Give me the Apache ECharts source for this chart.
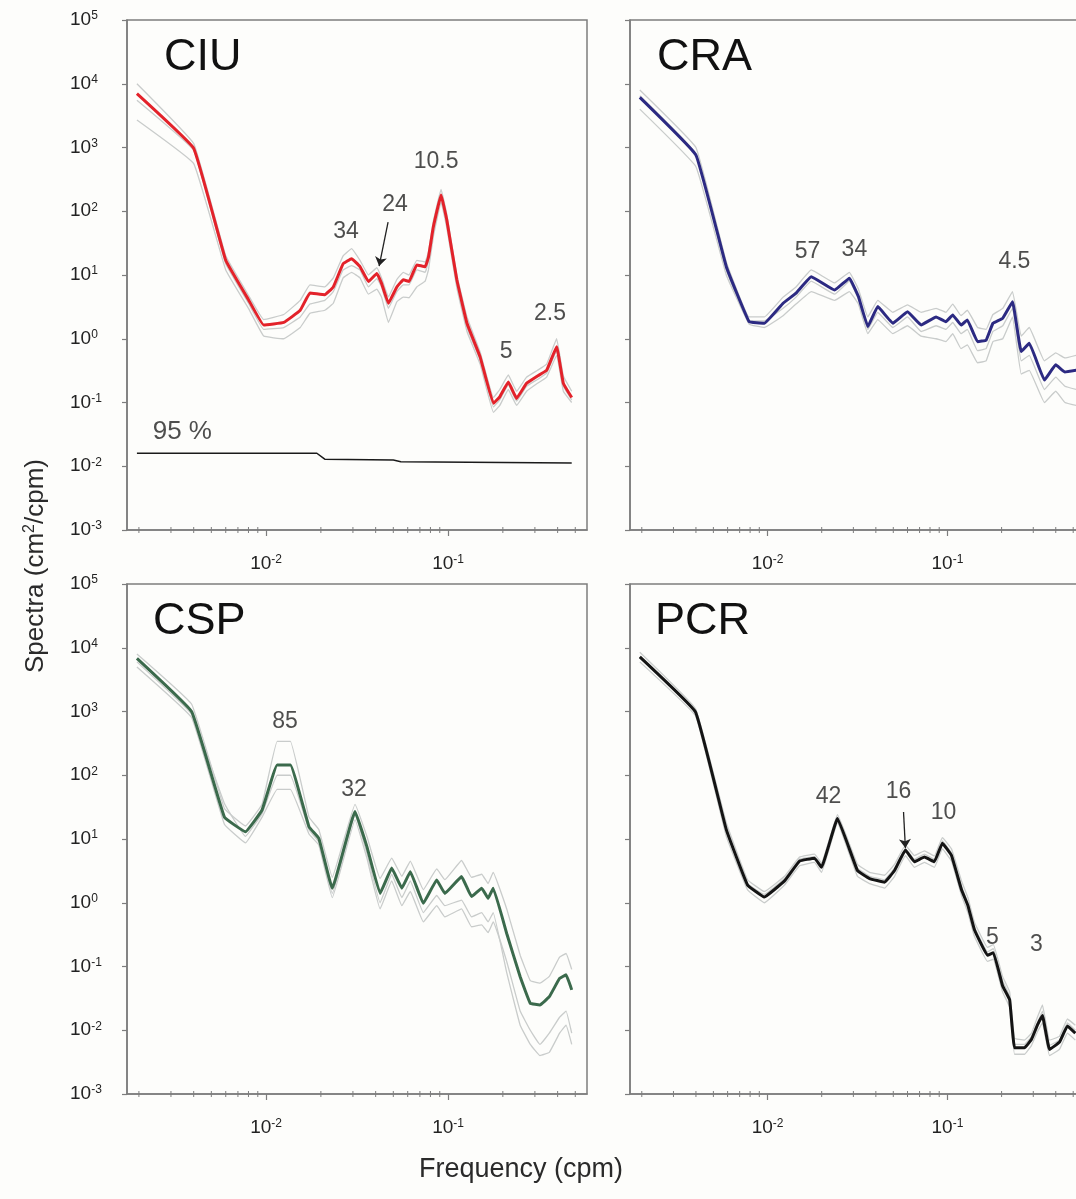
<!DOCTYPE html>
<html>
<head>
<meta charset="utf-8">
<script src="https://cdn.jsdelivr.net/npm/echarts@6/dist/echarts.min.js"></script>
<style>
  html, body { margin: 0; padding: 0; background: #fdfdfb; }
  #chart { width: 1076px; height: 1199px; }
</style>
</head>
<body>
<div id="chart"></div>
<script>
const FONT = '"Liberation Sans", Arial, Helvetica, sans-serif';

// ---- CIU ----
const ciuFreq  = [0.00195,0.004,0.006,0.008,0.0097,0.0125,0.0154,0.0174,0.021,0.0234,0.0265,0.0295,0.0328,0.0365,0.0406,0.0431,0.047,0.0523,0.0567,0.061,0.0673,0.0748,0.078,0.083,0.0915,0.0984,0.1117,0.127,0.150,0.1775,0.1924,0.2143,0.238,0.27,0.31,0.348,0.395,0.43,0.478];
const ciuMean  = [7000,970,17,4.1,1.64,1.8,2.8,5.2,4.9,6.5,15,18,13.5,7.9,10.6,7.4,3.6,6.5,8.4,7.9,14.4,13.5,19,57,180,73,8.4,1.75,0.52,0.097,0.123,0.21,0.116,0.2,0.26,0.32,0.75,0.2,0.12];
const ciuSubjA = [10000,1150,20,4.8,2.0,2.4,4,7,6.5,9,20,26,17,10,13,9,4.5,8.5,11,10,17,16,23,70,220,90,10,2.2,0.62,0.12,0.16,0.27,0.15,0.25,0.32,0.4,1.0,0.26,0.15];
const ciuSubjB = [2700,560,12,3,1.1,1.0,1.5,2.5,2.8,3.6,9,11,9,5,6,4.5,1.8,3.8,4.5,4.4,6.5,8,12,40,140,55,6.3,1.3,0.4,0.07,0.09,0.16,0.09,0.15,0.2,0.25,0.55,0.15,0.1];
const ciuSubjC = [5500,900,15,3.6,1.4,1.5,2.2,3.5,4,5.5,12,14,12,6.5,8.8,6.5,3.0,5.5,7,7,12,11,17,50,170,65,7.5,1.5,0.46,0.085,0.11,0.19,0.105,0.18,0.23,0.29,0.65,0.18,0.11];
const ciuSigFreq = [0.00195,0.019,0.021,0.05,0.055,0.478];
const ciuSig95   = [0.016,0.016,0.0129,0.0125,0.0118,0.0112];
const ciuPeaks = [
  { text: '34',   f: 0.0275, v: 47 },
  { text: '24',   f: 0.0511, v: 125 },
  { text: '10.5', f: 0.0859, v: 590 },
  { text: '5',    f: 0.2084, v: 0.62 },
  { text: '2.5',  f: 0.3634, v: 2.44 }
];
const ciuArrows = [[[0.0468, 67.8], [0.0418, 13.8]]];

// ---- CRA ----
const craFreq  = [0.00195,0.004,0.0059,0.0079,0.0096,0.0122,0.0144,0.0175,0.0236,0.0285,0.032,0.0361,0.041,0.0497,0.060,0.0714,0.0865,0.098,0.107,0.119,0.129,0.147,0.164,0.179,0.203,0.23,0.257,0.285,0.346,0.4,0.45,0.52];
const craMean  = [6100,760,13.5,1.85,1.75,3.6,5.2,9.4,5.8,8.9,4.6,1.55,3.2,1.75,2.66,1.64,2.2,1.85,2.36,1.64,1.97,0.9,0.95,1.75,2.1,3.8,0.63,0.85,0.225,0.39,0.3,0.32];
const craSubjA = [8000,1000,16,2.2,2.2,4.5,6.5,12,7.5,11,6,2.2,4,2.6,3.4,2.6,3,2.6,3.5,2.3,2.8,1.5,1.4,2.4,3,5.5,1.1,1.5,0.45,0.6,0.5,0.55];
const craSubjB = [4000,500,10,1.7,1.5,2.3,3.5,5.5,4,5.5,3.5,1.2,2,1.2,1.6,1.1,1.0,0.9,1.2,0.7,0.8,0.42,0.45,0.9,1.0,2.2,0.28,0.32,0.1,0.15,0.1,0.09];
const craSubjC = [6500,800,12,1.9,1.9,3.0,4.5,8,5,8,4.2,1.4,2.6,1.5,2.2,1.3,1.6,1.4,1.8,1.2,1.4,0.65,0.7,1.3,1.6,3.0,0.45,0.55,0.16,0.25,0.18,0.16];
const craPeaks = [
  { text: '57',  f: 0.01668, v: 23 },
  { text: '34',  f: 0.0304,  v: 24.7 },
  { text: '4.5', f: 0.2355,  v: 16 }
];

// ---- CSP ----
const cspFreq  = [0.00195,0.0039,0.0059,0.0077,0.0095,0.0115,0.0136,0.0172,0.0195,0.0231,0.0308,0.0358,0.0423,0.049,0.0557,0.062,0.0731,0.0866,0.096,0.1186,0.1345,0.153,0.166,0.177,0.21,0.249,0.283,0.32,0.36,0.41,0.445,0.478];
const cspMean  = [6800,990,22,13,28.5,145,145,15.6,10.2,1.69,27,7.6,1.4,3.5,1.69,3.07,0.98,2.28,1.4,2.57,1.25,1.69,1.17,1.69,0.33,0.069,0.0265,0.025,0.0336,0.065,0.074,0.043];
const cspSubjA = [8000,1300,30,16,35,340,340,22,14,2.5,35,11,2.4,5,2.6,4.5,1.6,3.4,2.3,4.6,2.5,2.8,2.0,3.0,0.8,0.15,0.06,0.055,0.07,0.14,0.16,0.09];
const cspSubjB = [5000,800,17,8.7,22,60,60,12,8,1.2,20,5,0.8,2.2,0.9,1.5,0.5,0.9,0.6,0.8,0.42,0.45,0.34,0.5,0.12,0.02,0.01,0.006,0.009,0.016,0.02,0.009];
const cspSubjC = [6000,900,36,11,25,100,100,14,9,1.4,24,6,1.0,2.8,1.2,2.2,0.7,1.3,0.9,1.1,0.6,0.7,0.5,0.7,0.08,0.012,0.006,0.004,0.0045,0.009,0.012,0.006];
const cspPeaks = [
  { text: '85', f: 0.01272, v: 684 },
  { text: '32', f: 0.03045, v: 58.7 }
];

// ---- PCR ----
const pcrFreq  = [0.00195,0.00398,0.0059,0.00774,0.0096,0.01243,0.01506,0.01825,0.01995,0.02448,0.0316,0.0369,0.0447,0.0508,0.0584,0.0655,0.0745,0.0846,0.0937,0.1053,0.1197,0.13,0.1411,0.1668,0.18,0.2024,0.2217,0.236,0.268,0.2933,0.3162,0.3373,0.3692,0.4194,0.4642,0.5139];
const pcrMean  = [7200,980,14,1.9,1.23,2.2,4.5,5.0,3.6,21,3.2,2.4,2.1,3.2,6.7,4.4,5.2,4.4,8.6,5.5,1.6,0.9,0.38,0.15,0.165,0.05,0.03,0.0053,0.0053,0.0072,0.012,0.017,0.005,0.0065,0.0117,0.009];
const pcrSubjA = [8500,1100,18,2.3,1.5,2.6,5.2,5.8,4.2,24,4,3,2.7,4,8,5.5,6.5,5.4,10.5,7,2.2,1.2,0.5,0.2,0.22,0.07,0.04,0.0075,0.007,0.009,0.016,0.025,0.007,0.008,0.015,0.012];
const pcrSubjB = [6000,850,11,1.6,1.0,1.9,3.8,4.3,3.0,18,2.6,2.0,1.7,2.6,5.5,3.6,4.3,3.6,7,4.5,1.3,0.7,0.3,0.12,0.13,0.04,0.023,0.0042,0.0042,0.0058,0.0095,0.013,0.004,0.005,0.009,0.007];
const pcrSubjC = [7000,950,13,2.0,1.35,2.4,4.8,5.3,3.9,22,3.5,2.6,2.3,3.5,7,4.8,5.8,4.8,9.3,6,1.8,1.0,0.42,0.17,0.19,0.06,0.034,0.006,0.006,0.008,0.013,0.02,0.0058,0.007,0.013,0.01];
const pcrPeaks = [
  { text: '42', f: 0.0218, v: 45.6 },
  { text: '16', f: 0.0535, v: 54.6 },
  { text: '10', f: 0.095,  v: 25.6 },
  { text: '5',  f: 0.178,  v: 0.28 },
  { text: '3',  f: 0.312,  v: 0.217 }
];
const pcrArrows = [[[0.057, 26.5], [0.0584, 7.2]]];

// axis extents and minor tick positions on the frequency axis
const FREQ_MIN = 0.00172;
const FREQ_MAX_LEFT = 0.58, FREQ_MAX_RIGHT = 0.62;
const SPEC_MIN = 1e-3, SPEC_MAX = 1e5;
const minorTickFreq = [0.002,0.003,0.004,0.005,0.006,0.007,0.008,0.009,
                       0.02,0.03,0.04,0.05,0.06,0.07,0.08,0.09,
                       0.2,0.3,0.4,0.5,0.6];

const AXIS_COLOR = '#7d7d7d';
const TEXT_COLOR = '#222';

const panels = [
  { name: 'CIU', left: 127, top: 20,  fmax: FREQ_MAX_LEFT,  freq: ciuFreq, mean: ciuMean, subj: [ciuSubjA, ciuSubjB, ciuSubjC], color: '#e3222a', peaks: ciuPeaks, arrows: ciuArrows, labels: true,  nameX: 164, nameY: 58 },
  { name: 'CRA', left: 630, top: 20,  fmax: FREQ_MAX_RIGHT, freq: craFreq, mean: craMean, subj: [craSubjA, craSubjB, craSubjC], color: '#2c2a82', peaks: craPeaks, arrows: [],        labels: false, nameX: 657, nameY: 58 },
  { name: 'CSP', left: 127, top: 584, fmax: FREQ_MAX_LEFT,  freq: cspFreq, mean: cspMean, subj: [cspSubjA, cspSubjB, cspSubjC], color: '#3b6a4c', peaks: cspPeaks, arrows: [],        labels: true,  nameX: 153, nameY: 622 },
  { name: 'PCR', left: 630, top: 584, fmax: FREQ_MAX_RIGHT, freq: pcrFreq, mean: pcrMean, subj: [pcrSubjA, pcrSubjB, pcrSubjC], color: '#141414', peaks: pcrPeaks, arrows: pcrArrows, labels: false, nameX: 655, nameY: 622 }
];

const PANEL_W = 460, PANEL_H = 510;

function pairs(xs, ys) { return xs.map((x, i) => [x, ys[i]]); }

function powerLabel(v) {
  const e = Math.log10(v);
  const r = Math.round(e);
  if (Math.abs(e - r) > 1e-6) return '';
  return '{b|10}{s|' + r + '}';
}
const powerRich = {
  b: { fontSize: 19, fontFamily: FONT, color: TEXT_COLOR, lineHeight: 20 },
  s: { fontSize: 12, fontFamily: FONT, color: TEXT_COLOR, lineHeight: 12, verticalAlign: 'top' }
};

const grid = [], xAxis = [], yAxis = [], series = [], graphic = [];

panels.forEach((p, i) => {
  grid.push({
    left: p.left, top: p.top, width: PANEL_W, height: PANEL_H,
    outerBoundsMode: 'none', containLabel: false,
    show: true, borderColor: AXIS_COLOR, borderWidth: 1.5, backgroundColor: 'transparent'
  });
  xAxis.push({
    type: 'log', logBase: 10, gridIndex: i, min: FREQ_MIN, max: p.fmax,
    axisLine: { show: true, lineStyle: { color: AXIS_COLOR, width: 1.5 } },
    axisTick: { show: true, length: 6, lineStyle: { color: AXIS_COLOR, width: 1.2 } },
    splitLine: { show: false },
    axisLabel: {
      show: true, margin: 24, showMinLabel: false, showMaxLabel: false,
      formatter: powerLabel, rich: powerRich
    }
  });
  yAxis.push({
    type: 'log', logBase: 10, gridIndex: i, min: SPEC_MIN, max: SPEC_MAX, splitNumber: 8,
    axisLine: { show: true, lineStyle: { color: AXIS_COLOR, width: 1.5 } },
    axisTick: { show: true, length: 5, lineStyle: { color: AXIS_COLOR, width: 1.2 } },
    splitLine: { show: false },
    axisLabel: {
      show: p.labels, margin: 57, align: 'left',
      formatter: powerLabel, rich: powerRich
    }
  });

  // minor ticks along the frequency axis
  series.push({
    type: 'custom', xAxisIndex: i, yAxisIndex: i, clip: false, silent: true, z: 3,
    data: minorTickFreq.filter(f => f < p.fmax).map(f => [f, SPEC_MIN]),
    renderItem: (params, api) => {
      const c = api.coord([api.value(0), api.value(1)]);
      return {
        type: 'line',
        shape: { x1: c[0], y1: c[1] - 3, x2: c[0], y2: c[1] + 3 },
        style: { stroke: AXIS_COLOR, lineWidth: 1 }
      };
    }
  });

  // individual recordings
  p.subj.forEach(vals => {
    series.push({
      type: 'line', xAxisIndex: i, yAxisIndex: i, silent: true,
      data: pairs(p.freq, vals), showSymbol: false, symbol: 'none', smooth: 0.08,
      lineStyle: { color: '#c9cccb', width: 1.3 }, z: 2
    });
  });

  // averaged spectrum
  series.push({
    type: 'line', xAxisIndex: i, yAxisIndex: i, silent: true,
    data: pairs(p.freq, p.mean), showSymbol: false, symbol: 'none', smooth: 0.08,
    lineStyle: { color: p.color, width: 3 }, z: 4
  });

  // period annotations (minutes)
  series.push({
    type: 'scatter', xAxisIndex: i, yAxisIndex: i, silent: true, z: 6,
    symbol: 'circle', symbolSize: 1, itemStyle: { color: 'rgba(0,0,0,0)' },
    data: p.peaks.map(k => ({ value: [k.f, k.v], name: k.text })),
    label: {
      show: true, position: 'inside', formatter: '{b}',
      fontSize: 23, fontFamily: FONT, color: TEXT_COLOR
    }
  });

  if (p.arrows.length) {
    series.push({
      type: 'lines', coordinateSystem: 'cartesian2d', xAxisIndex: i, yAxisIndex: i,
      silent: true, z: 6, symbol: ['none', 'arrow'], symbolSize: 9,
      lineStyle: { color: TEXT_COLOR, width: 1.3, opacity: 1 },
      data: p.arrows.map(a => ({ coords: a }))
    });
  }

  graphic.push({
    type: 'text', x: p.nameX, y: p.nameY, silent: true,
    style: {
      text: p.name, fontSize: 45, fontFamily: FONT, fill: '#111',
      textAlign: 'left', textVerticalAlign: 'middle'
    }
  });
});

// 95 % significance level (CIU panel)
series.push({
  type: 'line', xAxisIndex: 0, yAxisIndex: 0, silent: true,
  data: pairs(ciuSigFreq, ciuSig95), showSymbol: false, symbol: 'none',
  lineStyle: { color: '#1a1a1a', width: 1.5 }, z: 4
});
series.push({
  type: 'scatter', xAxisIndex: 0, yAxisIndex: 0, silent: true, z: 6,
  symbol: 'circle', symbolSize: 1, itemStyle: { color: 'rgba(0,0,0,0)' },
  data: [{ value: [0.002366, 0.0344], name: '95 %' }],
  label: {
    show: true, position: 'right', distance: 0, formatter: '{b}',
    fontSize: 26, fontFamily: FONT, color: TEXT_COLOR
  }
});

// shared axis titles
graphic.push({
  type: 'text', x: 36, y: 566, rotation: Math.PI / 2, silent: true,
  style: {
    text: '{a|Spectra (cm}{s|2}{a|/cpm)}',
    rich: {
      a: { fontSize: 26, fontFamily: FONT, fill: '#2a2a2a', lineHeight: 28 },
      s: { fontSize: 16, fontFamily: FONT, fill: '#2a2a2a', lineHeight: 16, verticalAlign: 'top' }
    },
    textAlign: 'center', textVerticalAlign: 'middle'
  }
});
graphic.push({
  type: 'text', x: 521, y: 1170, silent: true,
  style: {
    text: 'Frequency (cpm)', fontSize: 27, fontFamily: FONT, fill: '#2a2a2a',
    textAlign: 'center', textVerticalAlign: 'middle'
  }
});

const chart = echarts.init(document.getElementById('chart'), null, { renderer: 'canvas' });
chart.setOption({
  backgroundColor: '#fdfdfb',
  animation: false,
  grid, xAxis, yAxis, series, graphic
});
</script>
</body>
</html>
